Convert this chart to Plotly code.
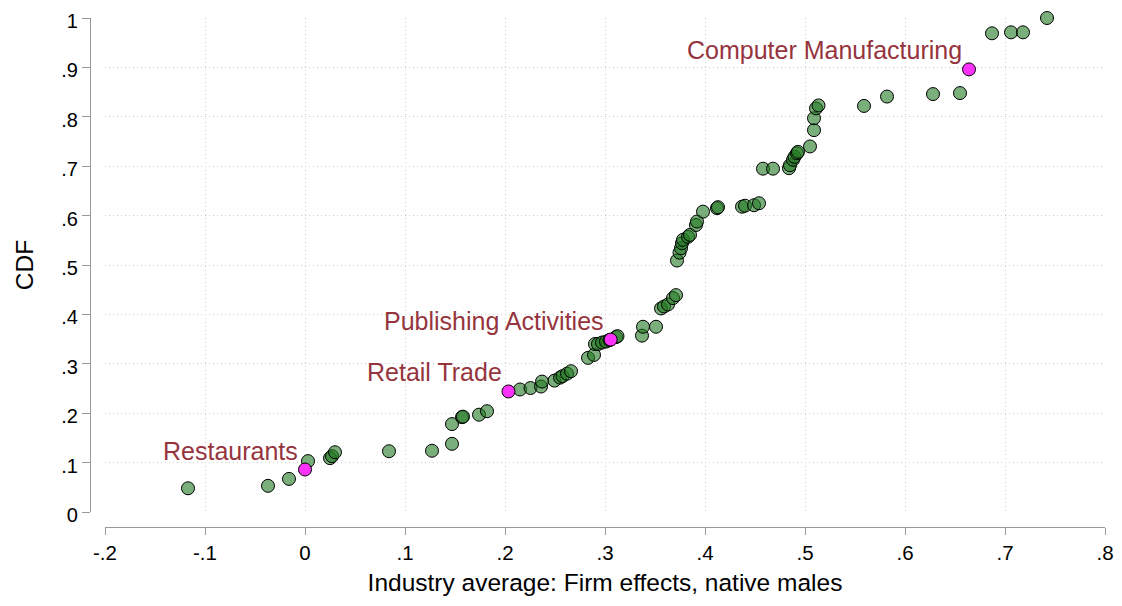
import plotly.graph_objects as go

# industry averages (x) and CDF (y)
ind_avg = [-0.117, -0.037, -0.016, 0.003, 0.025, 0.027, 0.030, 0.084, 0.127, 0.147,
           0.147, 0.157, 0.158, 0.174, 0.182, 0.215, 0.2255, 0.236, 0.237, 0.2495,
           0.255, 0.2575, 0.262, 0.266, 0.283, 0.289, 0.290, 0.293, 0.297, 0.301,
           0.3045, 0.311, 0.3125, 0.337, 0.338, 0.351, 0.356, 0.359, 0.363, 0.368,
           0.371, 0.372, 0.3745, 0.376, 0.377, 0.378, 0.383, 0.385, 0.391, 0.392,
           0.398, 0.412, 0.413, 0.437, 0.440, 0.449, 0.454, 0.458, 0.468, 0.484,
           0.485, 0.488, 0.4895, 0.492, 0.493, 0.505, 0.509, 0.509, 0.511, 0.5135,
           0.559, 0.582, 0.628, 0.655, 0.687, 0.706, 0.718, 0.742]
cdf = [0.048, 0.053, 0.067, 0.103, 0.109, 0.113, 0.121, 0.123, 0.124, 0.138,
       0.178, 0.192, 0.193, 0.197, 0.204, 0.248, 0.251, 0.254, 0.264, 0.266,
       0.272, 0.275, 0.280, 0.285, 0.312, 0.318, 0.340, 0.340, 0.343, 0.345,
       0.348, 0.354, 0.356, 0.357, 0.375, 0.375, 0.412, 0.416, 0.420, 0.433,
       0.439, 0.509, 0.525, 0.534, 0.544, 0.551, 0.557, 0.561, 0.581, 0.588,
       0.608, 0.615, 0.617, 0.618, 0.620, 0.621, 0.625, 0.695, 0.695, 0.696,
       0.702, 0.713, 0.719, 0.726, 0.729, 0.740, 0.773, 0.797, 0.817, 0.823,
       0.822, 0.841, 0.846, 0.848, 0.969, 0.971, 0.971, 1.0]

# highlighted industries
hl_names = ['Restaurants', 'Retail Trade', 'Publishing Activities', 'Computer Manufacturing']
hl_x = [0.000, 0.2035, 0.3057, 0.664]
hl_y = [0.086, 0.244, 0.349, 0.896]

x_ticks = [-0.2, -0.1, 0, 0.1, 0.2, 0.3, 0.4, 0.5, 0.6, 0.7, 0.8]
x_ticktext = ['-.2', '-.1', '0', '.1', '.2', '.3', '.4', '.5', '.6', '.7', '.8']
y_ticks = [0, 0.1, 0.2, 0.3, 0.4, 0.5, 0.6, 0.7, 0.8, 0.9, 1]
y_ticktext = ['0', '.1', '.2', '.3', '.4', '.5', '.6', '.7', '.8', '.9', '1']

FONT = 'Liberation Sans, Arial, Helvetica, sans-serif'
AXIS_GRAY = '#999999'
GRID = '#cfcfcf'
# page body keeps its 8px margin, so the figure is a bit smaller than the window
PAD = 8
W, H = 1122 - PAD, 606 - PAD

fig = go.Figure()
fig.add_trace(go.Scatter(
    x=ind_avg, y=cdf, mode='markers', cliponaxis=False, hoverinfo='x+y',
    marker=dict(size=13, color='rgba(34,120,34,0.6)',
                line=dict(color='black', width=1))
))
fig.add_trace(go.Scatter(
    x=hl_x, y=hl_y, mode='markers', cliponaxis=False, text=hl_names,
    hoverinfo='text',
    marker=dict(size=13, color='rgb(250,50,250)',
                line=dict(color='black', width=1))
))

for name, x, y in zip(hl_names, hl_x, hl_y):
    fig.add_annotation(x=x, y=y, text=name, showarrow=False,
                       xanchor='right', yanchor='middle', xshift=-5, yshift=19,
                       font=dict(family=FONT, size=25, color='rgb(150,52,62)'))

fig.update_layout(
    width=W, height=H,
    margin=dict(l=0, r=0, t=0, b=0),
    plot_bgcolor='white', paper_bgcolor='white',
    showlegend=False,
    font=dict(family=FONT, color='black'),
    xaxis=dict(
        domain=[(105 - PAD) / W, (1105 - PAD) / W], range=[-0.2, 0.8],
        anchor='free', position=1 - (527 - PAD) / H, automargin=False,
        tickvals=x_ticks, ticktext=x_ticktext, ticklabeloverflow='allow',
        tickfont=dict(size=20.5), ticks='outside', ticklen=7,
        tickcolor=AXIS_GRAY, tickwidth=1.3,
        showline=True, linecolor=AXIS_GRAY, linewidth=1.3,
        showgrid=True, gridcolor=GRID, griddash='1px,3px', gridwidth=1,
        zeroline=False,
        title=dict(text='Industry average: Firm effects, native males',
                   font=dict(size=24.5), standoff=11),
    ),
    yaxis=dict(
        domain=[1 - (512 - PAD) / H, 1 - (18 - PAD) / H], range=[0, 1],
        anchor='free', position=(90 - PAD) / W, automargin=False,
        tickvals=y_ticks, ticktext=y_ticktext, ticklabeloverflow='allow',
        ticklabelshift=3,
        tickfont=dict(size=20), ticks='outside', ticklen=8,
        tickcolor=AXIS_GRAY, tickwidth=1.3,
        showline=True, linecolor=AXIS_GRAY, linewidth=1.3,
        showgrid=True, gridcolor=GRID, griddash='1px,3px', gridwidth=1,
        zeroline=False,
        title=dict(text='CDF', font=dict(size=24.5), standoff=19),
    ),
)

fig.write_html("out.html")
